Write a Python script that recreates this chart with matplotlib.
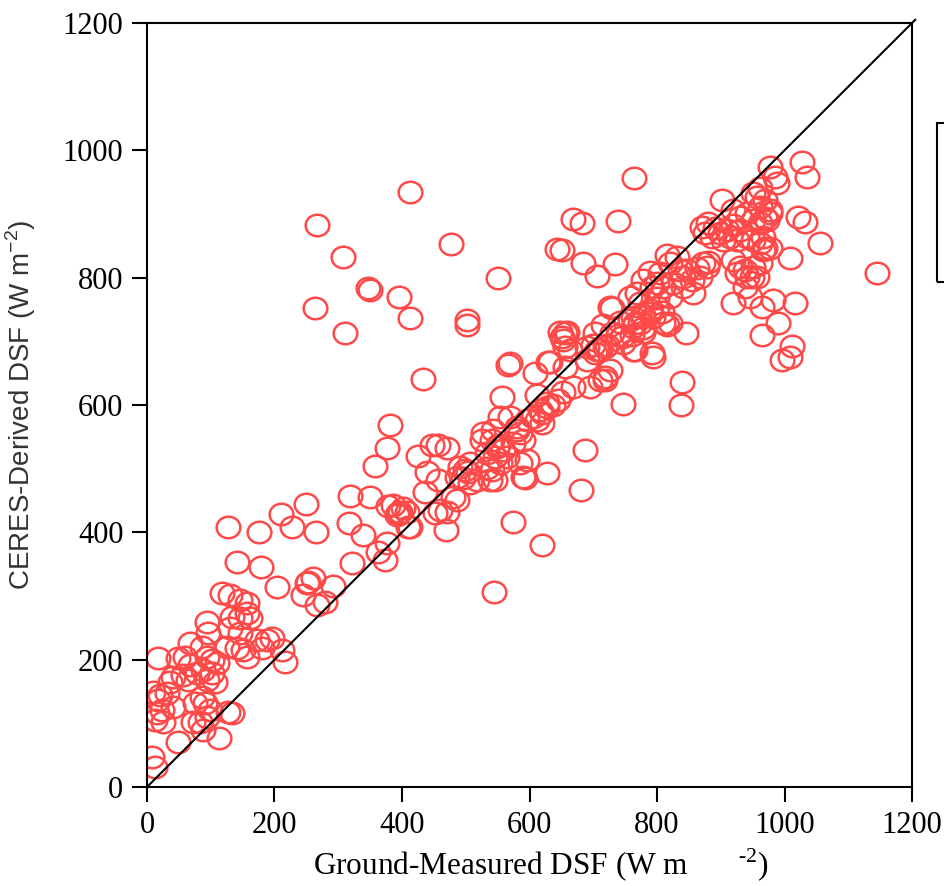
import matplotlib
matplotlib.use("Agg")
import matplotlib.pyplot as plt
from matplotlib.markers import MarkerStyle
from matplotlib.transforms import Affine2D
from matplotlib.patches import Rectangle

plt.rcParams['font.family'] = ['Liberation Serif', 'DejaVu Serif']
plt.rcParams['mathtext.fontset'] = 'custom'
plt.rcParams['mathtext.rm'] = 'Liberation Serif'
plt.rcParams['mathtext.sf'] = 'Liberation Sans'

# ground-measured DSF (x) and CERES-derived DSF (y), W m-2
ground = [
    8, 12, 17, 9, 20, 17, 31, 41, 24, 13, 25, 16, 49, 113, 75, 86, 91, 99, 94, 83, 88, 72, 127, 133,
    49, 60, 67, 78, 88, 94, 102, 107, 64, 56, 41, 36,
    67, 86, 94, 102, 110, 125, 141, 151, 157, 173, 188, 196, 180, 212, 216,
    94, 96, 130, 146, 118, 130, 146, 157, 157, 133, 146, 162,
    127, 176, 210, 227, 249, 265, 141, 179, 204, 251, 260, 245, 267, 253, 279, 292,
    358, 376, 381, 318, 350, 378, 317, 339, 362, 376, 373, 322,
    386, 394, 408, 409, 397, 392, 402, 413,
    447, 456, 471, 425, 439, 456, 436, 452, 460, 471, 469, 480, 486,
    499, 496, 507, 518, 507, 491, 504, 486,
    527, 525, 543, 541, 533, 549, 558, 565, 554, 541, 538, 546, 534, 546, 551,
    554, 569, 580, 585, 574, 590, 605, 616, 596, 585, 590, 627, 593, 574, 620, 544, 557, 580, 596, 612,
    612, 627, 637, 653, 668, 695, 718, 747, 687, 681, 627, 620, 620, 645,
    632, 656, 726, 718, 711, 566, 569, 609, 629, 433,
    656, 648, 653, 663, 711, 703, 722, 729, 745, 762, 773, 778, 789, 809, 820, 846, 762, 800, 729,
    700, 707, 690, 794, 839, 838, 996,
    413, 267, 307, 477, 347, 350, 395, 413, 264, 311, 502, 502, 551, 643,
    764, 668, 682, 739, 651, 684, 706, 734,
    1027, 1035, 977, 985, 988, 962, 957, 969, 962, 977, 969, 951, 902, 1021, 1032, 1056, 1145, 1009,
    871, 880, 891, 899, 910, 919, 930, 915, 904, 887, 876, 930, 941, 919, 951, 962, 973, 977, 966, 962,
    969, 951, 941, 925,
    930, 938, 925, 941, 949, 919, 951, 938, 957, 962, 966, 977,
    919, 946, 965, 982, 1016, 990, 965, 1012, 1009,
    847, 863, 867, 878, 841, 816, 831, 820, 836, 805, 789, 800, 809, 825, 841, 856, 855, 872, 880,
    778, 792, 769, 758, 773, 789, 776, 765, 778, 794, 808, 816, 820, 800,
    726, 715, 703, 690, 706, 718, 739, 761, 742, 758, 747, 765, 792, 762, 778,
    659, 651, 656,
]
ceres = [
    47, 32, 203, 149, 144, 137, 148, 126, 121, 105, 102, 116, 70, 77, 132, 141, 132, 121, 110, 102, 90, 102, 118, 116,
    203, 204, 192, 179, 184, 168, 179, 165, 168, 176, 173, 165,
    226, 220, 204, 199, 195, 220, 218, 215, 204, 231, 231, 234, 218, 215, 196,
    259, 242, 250, 242, 305, 302, 294, 289, 273, 267, 265, 265,
    408, 400, 429, 408, 444, 400, 353, 346, 314, 320, 328, 302, 286, 322, 291, 316,
    504, 532, 569, 457, 455, 441, 415, 396, 369, 383, 357, 352,
    443, 430, 432, 408, 432, 427, 438, 408,
    537, 537, 532, 520, 495, 482, 463, 430, 435, 432, 404, 455, 451,
    498, 485, 477, 482, 509, 503, 495, 487,
    556, 545, 561, 545, 525, 534, 529, 518, 509, 498, 482, 518, 501, 482, 537,
    581, 581, 561, 556, 540, 545, 581, 592, 514, 509, 487, 493, 485, 416, 380, 306, 613, 565, 576, 576,
    616, 603, 600, 620, 628, 628, 639, 602, 529, 466, 597, 587, 572, 608,
    668, 660, 655, 644, 639, 663, 666, 650, 668, 641,
    713, 715, 702, 686, 686, 682, 694, 713, 707, 686, 729, 741, 744, 729, 729, 713, 738, 754, 752,
    694, 686, 671, 675, 636, 600, 671,
    935, 883, 832, 853, 784, 781, 770, 737, 752, 713, 733, 726, 800, 845,
    957, 892, 886, 889, 843, 823, 803, 821,
    982, 958, 974, 958, 949, 941, 927, 922, 911, 906, 894, 933, 922, 895, 887, 854, 807, 831,
    880, 886, 878, 870, 875, 883, 875, 864, 859, 864, 870, 895, 902, 906, 891, 886, 891, 902, 864, 854,
    847, 859, 864, 859,
    817, 812, 807, 801, 801, 828, 817, 785, 801, 823, 843, 847,
    760, 770, 754, 765, 760, 729, 710, 693, 675,
    812, 815, 801, 817, 801, 836, 832, 823, 812, 807, 809, 792, 785, 792, 785, 776, 796, 823, 825,
    796, 785, 776, 770, 760, 749, 738, 729, 721, 738, 746, 726, 770, 768,
    754, 726, 713, 691, 686, 691, 710, 710, 730, 733, 697, 686, 682, 722, 715,
    715, 707, 691,
]

ticks = [0, 200, 400, 600, 800, 1000, 1200]

fig = plt.figure(figsize=(9.45, 8.86), dpi=100)
ax = fig.add_axes([147 / 945, 1 - 787 / 886, 765 / 945, 764 / 886])

ell = MarkerStyle('o', transform=Affine2D().scale(1.1, 1.0))
ax.plot(ground, ceres, linestyle='none', marker=ell, markersize=15.5,
        markerfacecolor='none', markeredgecolor='#ff4a4a', markeredgewidth=1.8)

# 1:1 line
ax.plot([0, 1205], [0, 1205], color='black', lw=1.5, clip_on=False, zorder=3)

ax.set_xlim(0, 1200)
ax.set_ylim(0, 1200)
ax.set_xticks(ticks)
ax.set_yticks(ticks)
ax.tick_params(direction='out', length=11, width=1.5, labelsize=22, pad=6)
for s in ax.spines.values():
    s.set_linewidth(1.5)

ax.set_xlabel(r"Ground-Measured DSF (W m$\quad\ \ {}^{\text{-2}}$)", fontsize=22.5)
ax.xaxis.set_label_coords(0.515, -0.078)
ax.set_ylabel(r"CERES-Derived DSF (W m$^{\mathsf{-2}}$)", fontsize=20,
              family=['Liberation Sans Narrow', 'Liberation Sans', 'DejaVu Sans'],
              color='#333333', labelpad=18)

# legend frame, cut off at the right edge
fig.patches.append(Rectangle((937 / 945, 1 - 282 / 886), 0.05, 159 / 886, fill=False,
                             lw=1.5, edgecolor='black', transform=fig.transFigure))

plt.savefig("out.png", dpi=100)
plt.close()
